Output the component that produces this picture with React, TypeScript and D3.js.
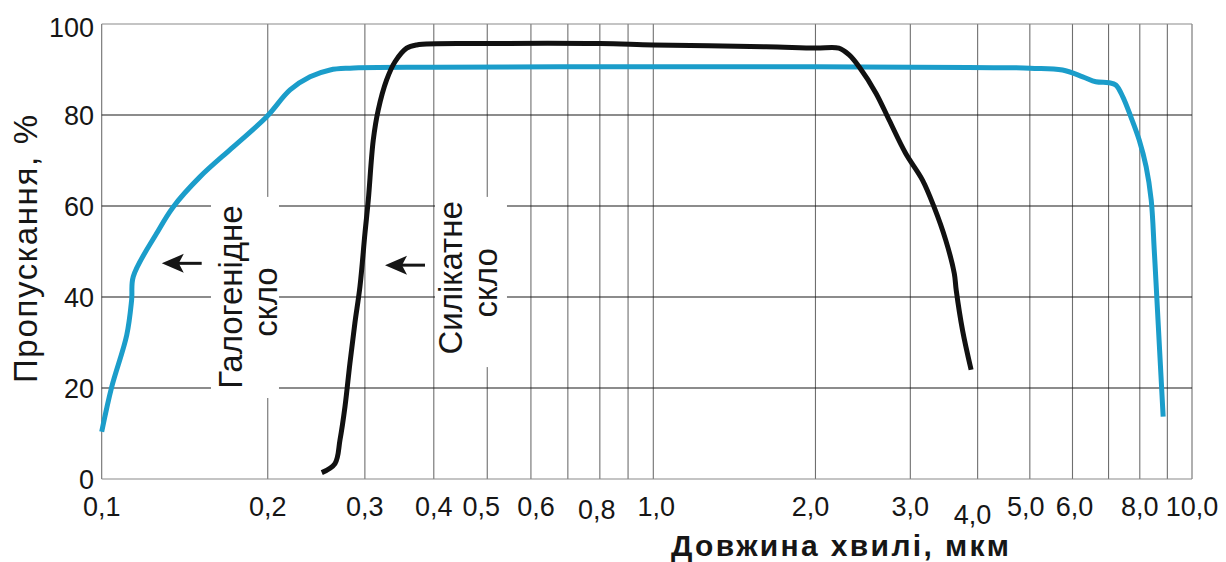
import { useEffect, useRef } from 'react';
import * as d3 from 'd3';

// довжина хвилі, мкм / пропускання, %
const haloWave = [0.1, 0.1043, 0.111, 0.1133, 0.1141, 0.1258, 0.1348, 0.1507, 0.1732, 0.1991, 0.2195, 0.2386, 0.2594, 0.2819, 0.4, 1.0, 2.0, 5.0, 5.75, 6.27, 6.63, 7.02, 7.22, 7.44, 7.7, 7.98, 8.22, 8.4, 8.51, 8.57, 8.7, 8.84];
const haloTrans = [10.4, 20.3, 31.6, 39.3, 44.5, 54, 59.8, 66.4, 73, 79.6, 85.5, 88.4, 89.9, 90.3, 90.5, 90.6, 90.6, 90.3, 89.9, 88.4, 87.3, 87.1, 86.6, 84.0, 79.6, 74.5, 68.6, 61.3, 50.3, 43.7, 29.1, 13.7];

const silWave = [0.2506, 0.2648, 0.2704, 0.2761, 0.2818, 0.2877, 0.2939, 0.3001, 0.3043, 0.3107, 0.3172, 0.3285, 0.3402, 0.3572, 0.3724, 0.5, 0.8, 1.0, 1.62, 2.0, 2.21, 2.31, 2.41, 2.59, 2.74, 2.94, 3.16, 3.32, 3.49, 3.62, 3.65, 3.75, 3.89];
const silTrans = [1.4, 3.4, 8.6, 15.9, 25.4, 34.2, 42.3, 54, 61.3, 74.5, 81.1, 87.7, 91.7, 94.7, 95.4, 95.7, 95.7, 95.4, 95.0, 94.7, 94.7, 93.2, 90.6, 84.8, 78.9, 71.6, 65.7, 59.8, 52.5, 45.2, 41.5, 32.7, 24.0];

const gridX = [0.1, 0.2, 0.3, 0.4, 0.5, 0.6, 0.7, 0.8, 0.9, 1, 2, 3, 4, 5, 6, 7, 8, 9, 10];
const tickX = [0.1, 0.2, 0.3, 0.4, 0.5, 0.6, 0.8, 1, 2, 3, 4, 5, 6, 8, 10];
const tickLabels = ['0,1', '0,2', '0,3', '0,4', '0,5', '0,6', '0,8', '1,0', '2,0', '3,0', '4,0', '5,0', '6,0', '8,0', '10,0'];
const tickY = [0, 20, 40, 60, 80, 100];

function App() {
  const ref = useRef<SVGSVGElement>(null);

  useEffect(() => {
    draw();
    // eslint-disable-next-line
  }, []);

  function draw() {
    const svg = d3.select(ref.current);
    svg.selectAll('*').remove();

    const font = "'Liberation Sans', Arial, sans-serif";
    const ink = '#161616';

    // шкала не зовсім логарифмічна: друга декада трохи стиснута
    const x = d3.scaleLog().domain([0.1, 1, 10]).range([101.7, 653.3, 1192]);
    const y = d3.scaleLinear().domain([0, 100]).range([479, 24]);

    const grid = svg.append('g');
    grid.selectAll('line.v')
      .data(gridX)
      .enter()
      .append('line')
      .attr('x1', d => x(d)).attr('x2', d => x(d))
      .attr('y1', y(0)).attr('y2', y(100))
      .attr('stroke', '#6f6f6f')
      .attr('stroke-width', 1.1);

    grid.selectAll('line.h')
      .data(tickY)
      .enter()
      .append('line')
      .attr('x1', x(0.1)).attr('x2', x(10))
      .attr('y1', d => y(d)).attr('y2', d => y(d))
      .attr('stroke', d => (d === 0 || d === 100) ? '#8a8a8a' : '#1a1a1a')
      .attr('stroke-width', 1.1);

    // білі підкладки під підписи
    const boxes = [
      { x0: 0.1578, x1: 0.2096, y0: 62, y1: 17.8 },
      { x0: 0.402, x1: 0.5429, y0: 62, y1: 24.6 }
    ];
    svg.selectAll('rect.box')
      .data(boxes)
      .enter()
      .append('rect')
      .attr('x', d => x(d.x0))
      .attr('y', d => y(d.y0))
      .attr('width', d => x(d.x1) - x(d.x0))
      .attr('height', d => y(d.y1) - y(d.y0))
      .attr('fill', '#fff');

    const notes = [
      { text: 'Галогенідне', xv: 0.1797, yv: 40 },
      { text: 'скло', xv: 0.2078, yv: 38.9 },
      { text: 'Силікатне', xv: 0.45, yv: 44.2 },
      { text: 'скло', xv: 0.5208, yv: 43.1 }
    ];
    svg.selectAll('text.note')
      .data(notes)
      .enter()
      .append('text')
      .attr('transform', d => `translate(${x(d.xv)},${y(d.yv)}) rotate(-90)`)
      .attr('text-anchor', 'middle')
      .attr('font-family', font)
      .attr('font-size', 33)
      .attr('fill', ink)
      .text(d => d.text);

    // стрілки
    const arrows = [
      { tip: 0.1285, tail: 0.1518, yv: 47.4 },
      { tip: 0.3263, tail: 0.3856, yv: 47 }
    ];
    const ag = svg.selectAll('g.arrow')
      .data(arrows)
      .enter()
      .append('g');
    ag.append('line')
      .attr('x1', d => x(d.tip) + 12).attr('x2', d => x(d.tail))
      .attr('y1', d => y(d.yv)).attr('y2', d => y(d.yv))
      .attr('stroke', ink)
      .attr('stroke-width', 3);
    ag.append('path')
      .attr('d', d => {
        const tx = x(d.tip), ty = y(d.yv);
        return `M${tx},${ty} L${tx + 22},${ty - 9.5} L${tx + 17},${ty} L${tx + 22},${ty + 9.5} Z`;
      })
      .attr('fill', ink);

    const line = d3.line<[number, number]>()
      .x(d => x(d[0]))
      .y(d => y(d[1]))
      .curve(d3.curveCatmullRom.alpha(0.5));

    svg.append('path')
      .datum(haloWave.map((w, i) => [w, haloTrans[i]] as [number, number]))
      .attr('d', line)
      .attr('fill', 'none')
      .attr('stroke', '#1b9dca')
      .attr('stroke-width', 5)
      .attr('stroke-linejoin', 'round');

    svg.append('path')
      .datum(silWave.map((w, i) => [w, silTrans[i]] as [number, number]))
      .attr('d', line)
      .attr('fill', 'none')
      .attr('stroke', '#111')
      .attr('stroke-width', 5)
      .attr('stroke-linejoin', 'round');

    // підписи осей
    const labelNudge: Record<string, [number, number]> = {
      '0,5': [-6, 0], '0,6': [5, 0], '0,8': [-3, 3], '1,0': [3, 0],
      '2,0': [-5, 0], '4,0': [-5, 8], '5,0': [-4, 0], '6,0': [2, 0]
    };
    svg.selectAll('text.tx')
      .data(tickX)
      .enter()
      .append('text')
      .attr('x', (d, i) => x(d) + (labelNudge[tickLabels[i]]?.[0] || 0))
      .attr('y', (d, i) => 516 + (labelNudge[tickLabels[i]]?.[1] || 0))
      .attr('text-anchor', 'middle')
      .attr('font-family', font)
      .attr('font-size', 27)
      .attr('fill', ink)
      .text((d, i) => tickLabels[i]);

    svg.selectAll('text.ty')
      .data(tickY)
      .enter()
      .append('text')
      .attr('x', 94)
      .attr('y', d => y(d) + (d === 100 ? 13 : 10))
      .attr('text-anchor', 'end')
      .attr('font-family', font)
      .attr('font-size', 27)
      .attr('fill', ink)
      .text(d => d);

    svg.append('text')
      .attr('x', 840)
      .attr('y', 556)
      .attr('text-anchor', 'middle')
      .attr('font-family', font)
      .attr('font-size', 30)
      .attr('font-weight', 'bold')
      .attr('textLength', 338)
      .attr('lengthAdjust', 'spacing')
      .attr('fill', ink)
      .text('Довжина хвилі, мкм');

    svg.append('text')
      .attr('transform', 'translate(37,249) rotate(-90)')
      .attr('text-anchor', 'middle')
      .attr('font-family', font)
      .attr('font-size', 33)
      .attr('textLength', 268)
      .attr('lengthAdjust', 'spacing')
      .attr('fill', ink)
      .text('Пропускання, %');
  }

  return (
    <svg ref={ref} width={1226} height={562}
      style={{ position: 'absolute', left: 0, top: 0, background: '#fff' }}>
    </svg>
  );
}

export default App;
